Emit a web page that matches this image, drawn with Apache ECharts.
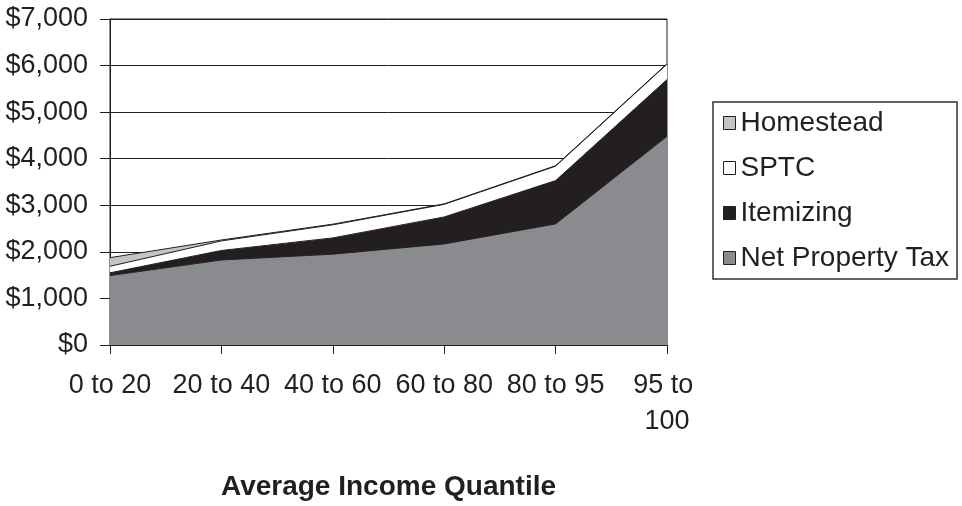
<!DOCTYPE html>
<html>
	<head>
		<meta charset="UTF-8">
		<title></title>
	</head>
	<body style="margin:0;background:#fff;">
		<div id="chart1" style="height: 506px;width: 962px;"></div>
		<script src="https://cdn.jsdelivr.net/npm/echarts@6/dist/echarts.min.js"></script>
		<script type="text/javascript">
			// 数据
			var categories = ['0 to 20', '20 to 40', '40 to 60', '60 to 80', '80 to 95', '95 to 100'];
			var netTax = [1490, 1825, 1950, 2170, 2600, 4480];
			var itemizing = [60, 205, 350, 580, 930, 1220];
			var sptc = [140, 205, 280, 270, 310, 330];
			var homestead = [185, 20, 15, 10, 10, 10];
			var yTicks = [0, 1000, 2000, 3000, 4000, 5000, 6000, 7000];

			var ink = '#231f20';
			var font = 'Liberation Sans, Arial, sans-serif';

			var my_echarts = echarts.init(document.getElementById('chart1'));

			function layer(name, data, color) {
				return {
					name: name,
					type: 'line',
					stack: 'total',
					data: data,
					symbol: 'none',
					smooth: false,
					itemStyle: { color: color },
					lineStyle: { color: ink, width: 1 },
					areaStyle: { color: color, opacity: 1 }
				};
			}

			option = {
				backgroundColor: '#fff',
				animation: false,
				textStyle: { fontFamily: font },
				grid: {
					left: 110,
					right: 295,
					top: 19,
					bottom: 145,
					show: true,
					borderColor: ink,
					borderWidth: 1
				},
				legend: {
					orient: 'vertical',
					left: 713,
					top: 102,
					data: ['Homestead', 'SPTC', 'Itemizing', 'Net Property Tax'],
					icon: 'rect',
					itemWidth: 12,
					itemHeight: 13,
					itemGap: 17,
					itemTextGap: 10,
					padding: [7, 8, 7, 10],
					borderColor: '#333',
					borderWidth: 1.5,
					itemStyle: { borderColor: ink, borderWidth: 1 },
					textStyle: { fontSize: 28, color: ink, fontFamily: font }
				},
				xAxis: {
					type: 'category',
					data: categories,
					boundaryGap: false,
					name: 'Average Income Quantile',
					nameLocation: 'middle',
					nameGap: 128,
					nameTextStyle: { fontSize: 28, fontWeight: 'bold', color: ink, fontFamily: font },
					axisLine: { lineStyle: { color: ink, width: 1 } },
					axisTick: { show: true, length: 9, lineStyle: { color: ink } },
					axisLabel: {
						fontSize: 27,
						color: ink,
						margin: 23,
						lineHeight: 36,
						width: 100,
						overflow: 'break',
						interval: 0,
						fontFamily: font
					}
				},
				yAxis: {
					type: 'value',
					min: yTicks[0],
					max: yTicks[yTicks.length - 1],
					interval: 1000,
					axisLine: { show: true, lineStyle: { color: ink, width: 1 } },
					axisTick: { show: true, length: 10, lineStyle: { color: ink } },
					splitLine: { show: true, lineStyle: { color: ink, width: 1 } },
					axisLabel: {
						fontSize: 27,
						color: ink,
						margin: 22,
						fontFamily: font,
						formatter: function(v) {
							return '$' + v.toLocaleString('en-US');
						}
					}
				},
				series: [
					layer('Net Property Tax', netTax, '#8a8b8f'),
					layer('Itemizing', itemizing, '#231f20'),
					layer('SPTC', sptc, '#ffffff'),
					layer('Homestead', homestead, '#c4c4c6')
				]
			};
			my_echarts.setOption(option);
		</script>
	</body>
</html>
